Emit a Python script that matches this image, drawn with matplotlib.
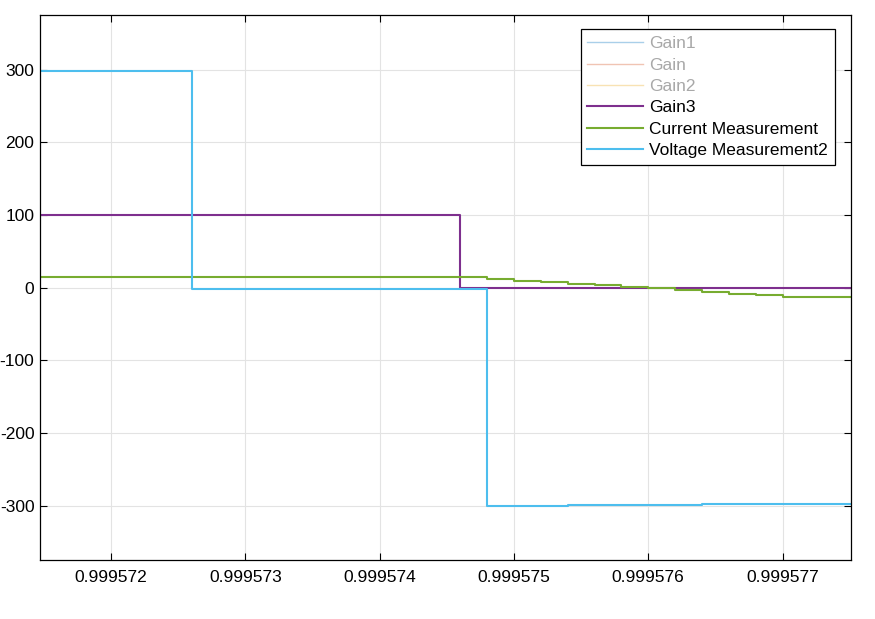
import matplotlib
matplotlib.use("Agg")
import matplotlib.pyplot as plt
from matplotlib.ticker import FormatStrFormatter

plt.rcParams["font.family"] = ["Liberation Sans", "DejaVu Sans"]
plt.rcParams["axes.unicode_minus"] = False

X_MIN = 0.99957147
X_MAX = 0.99957751

# step series (value holds until next time)
gain3_t = [X_MIN, 0.9995746, X_MAX]
gain3_v = [100.0, 0.0, 0.0]

current_t = [X_MIN, 0.9995720, 0.9995730, 0.9995740, 0.9995748, 0.9995750,
             0.9995752, 0.9995754, 0.9995756, 0.9995758, 0.9995760,
             0.9995762, 0.9995764, 0.9995766, 0.9995768, 0.9995770, X_MAX]
current_v = [14.4, 14.3, 14.1, 13.9, 11.5, 9.6, 6.9, 5.0, 2.8, 0.5, -0.9,
             -4.1, -6.4, -8.7, -10.6, -12.8, -12.8]

voltage_t = [X_MIN, 0.9995726, 0.9995748, 0.9995754, 0.9995764, 0.9995768, X_MAX]
voltage_v = [297.8, -1.8, -300.0, -299.5, -298.5, -297.3, -297.3]

faded = [("Gain1", "#a9cfe9"), ("Gain", "#f0c4b3"), ("Gain2", "#f8e2b3")]
shown = [("Gain3", "#7E2F8E", gain3_t, gain3_v),
         ("Current Measurement", "#77AC30", current_t, current_v),
         ("Voltage Measurement2", "#4DBEEE", voltage_t, voltage_v)]

fig = plt.figure(figsize=(8.75, 6.19), dpi=100)
ax = fig.add_axes([40 / 875, 1 - 560 / 619, 811 / 875, 545 / 619])

handles = []
for name, col in faded:
    h, = ax.plot([], [], color=col, lw=1.0, label=name)
    handles.append(h)
for name, col, t, v in shown:
    h, = ax.step(t, v, where="post", color=col, lw=1.5, label=name)
    handles.append(h)

ax.set_xlim(X_MIN, X_MAX)
ax.set_ylim(-375, 375)
ax.set_xticks([0.999572, 0.999573, 0.999574, 0.999575, 0.999576, 0.999577])
ax.set_yticks([-300, -200, -100, 0, 100, 200, 300])
ax.xaxis.set_major_formatter(FormatStrFormatter("%.6f"))
ax.tick_params(direction="in", top=True, right=True, labelsize=12.5,
               length=5, width=0.8)
ax.tick_params(axis="x", pad=7)
ax.tick_params(axis="y", pad=4)
ax.grid(True, color="#e3e3e3", lw=0.8)
ax.set_axisbelow(True)
for s in ax.spines.values():
    s.set_linewidth(0.9)

leg = ax.legend(handles=handles, loc="upper right",
                bbox_to_anchor=(0.98, 0.974), borderaxespad=0,
                fontsize=12.5, fancybox=False, framealpha=1,
                edgecolor="black", handlelength=3.2, handletextpad=0.35,
                labelspacing=0.36, borderpad=0.4)
leg.get_frame().set_linewidth(0.9)
for i, txt in enumerate(leg.get_texts()):
    txt.set_color("#a8a8a8" if i < 3 else "black")

fig.savefig("out.png", dpi=100)
